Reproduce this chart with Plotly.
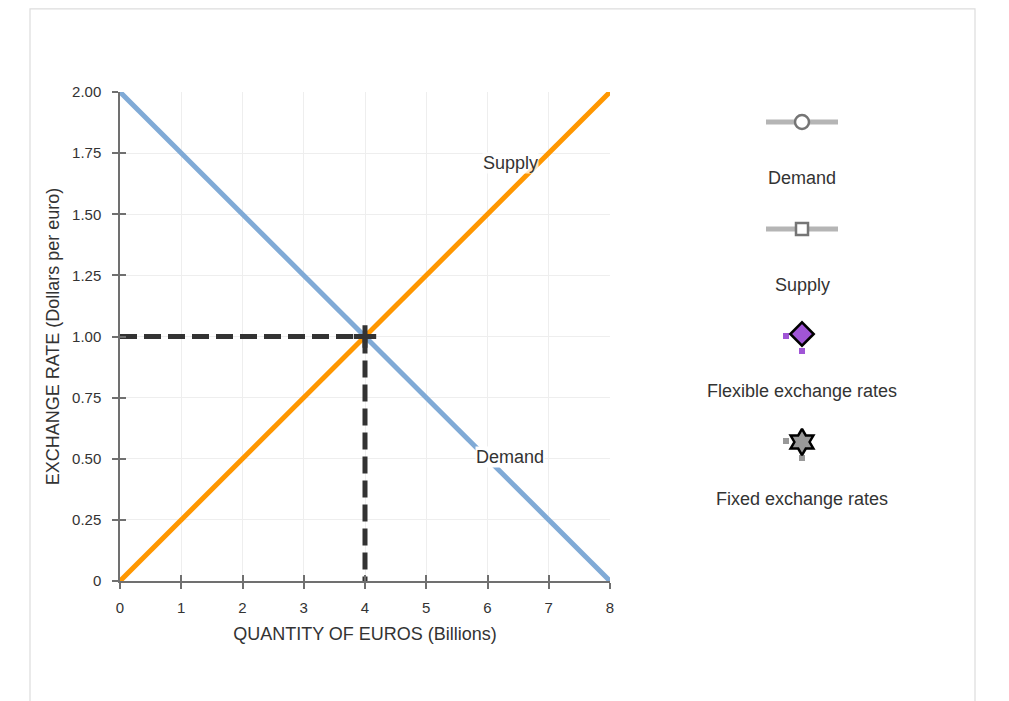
import plotly.graph_objects as go

# ---- data ----
demand_q = [0, 8]
demand_p = [2.0, 0.0]
supply_q = [0, 8]
supply_p = [0.0, 2.0]
equil_q = 4
equil_p = 1.0
x_ticks = [0, 1, 2, 3, 4, 5, 6, 7, 8]
y_ticks = [0, 0.25, 0.5, 0.75, 1.0, 1.25, 1.5, 1.75, 2.0]
y_ticklabels = ["0", "0.25", "0.50", "0.75", "1.00", "1.25", "1.50", "1.75", "2.00"]
curve_labels = ["Supply", "Demand"]
curve_label_q = [6.37, 6.37]
curve_label_p = [1.71, 0.507]

legend_names = ["Demand", "Supply", "Flexible exchange rates", "Fixed exchange rates"]

FONT = "Arial, Liberation Sans, sans-serif"
TXT = "#333333"
BLUE = "#80aad6"
ORANGE = "#ff9700"
DARK = "#333333"

fig = go.Figure()

# main curves
fig.add_trace(go.Scatter(x=demand_q, y=demand_p, mode="lines",
                         line=dict(color=BLUE, width=5), hoverinfo="skip"))
fig.add_trace(go.Scatter(x=supply_q, y=supply_p, mode="lines",
                         line=dict(color=ORANGE, width=5), hoverinfo="skip"))
# dashed guides
fig.add_trace(go.Scatter(x=[0, equil_q], y=[equil_p, equil_p], mode="lines",
                         line=dict(color=DARK, width=5, dash="17px,7px"), hoverinfo="skip"))
fig.add_trace(go.Scatter(x=[equil_q, equil_q], y=[equil_p, 0], mode="lines",
                         line=dict(color=DARK, width=5, dash="17px,7px"), hoverinfo="skip"))
# equilibrium cross
fig.add_trace(go.Scatter(x=[equil_q], y=[equil_p], mode="markers",
                         marker=dict(symbol="cross-thin", size=16,
                                     line=dict(color=DARK, width=5)), hoverinfo="skip"))
# inside-tick overlay axes
fig.add_trace(go.Scatter(x=[None], y=[None], xaxis="x3", yaxis="y3", showlegend=False))

# ---- palette (right side, screen-pixel-like coordinates on axis 2) ----
pal_cx = 802
pal_line = [766, 838]
pal_icon_y = [122, 229, 334, 442]
pal_text_y = [178, 285, 391, 499]
GRAY_LINE = "#b5b5b5"
GRAY_EDGE = "#757575"

for yy, sym in zip(pal_icon_y[:2], ["circle", "square"]):
    fig.add_trace(go.Scatter(x=pal_line, y=[yy, yy], mode="lines", xaxis="x2", yaxis="y2",
                             line=dict(color=GRAY_LINE, width=5), hoverinfo="skip"))
    fig.add_trace(go.Scatter(x=[pal_cx], y=[yy], mode="markers", xaxis="x2", yaxis="y2",
                             marker=dict(symbol=sym, size=12 if sym == "square" else 14,
                                         color="white", line=dict(color=GRAY_EDGE, width=2.5)),
                             hoverinfo="skip"))

PURPLE = "#a055d6"
fig.add_trace(go.Scatter(x=[pal_cx - 16, pal_cx], y=[pal_icon_y[2] + 2, pal_icon_y[2] + 17],
                         mode="markers", xaxis="x2", yaxis="y2",
                         marker=dict(symbol="square", size=6, color=PURPLE), hoverinfo="skip"))
fig.add_trace(go.Scatter(x=[pal_cx], y=[pal_icon_y[2]], mode="markers", xaxis="x2", yaxis="y2",
                         marker=dict(symbol="diamond", size=18, color=PURPLE,
                                     line=dict(color="black", width=2.5)), hoverinfo="skip"))
GRAY = "#999999"
fig.add_trace(go.Scatter(x=[pal_cx - 16, pal_cx], y=[pal_icon_y[3] - 1, pal_icon_y[3] + 16],
                         mode="markers", xaxis="x2", yaxis="y2",
                         marker=dict(symbol="square", size=6, color=GRAY), hoverinfo="skip"))
fig.add_trace(go.Scatter(x=[pal_cx], y=[pal_icon_y[3]], mode="markers", xaxis="x2", yaxis="y2",
                         marker=dict(symbol="hexagram", size=20, color=GRAY,
                                     line=dict(color="black", width=2.5)), hoverinfo="skip"))

annotations = []
for name, ty in zip(legend_names, pal_text_y):
    annotations.append(dict(x=pal_cx, y=ty, xref="x2", yref="y2", text=name, showarrow=False,
                            font=dict(family=FONT, size=18, color=TXT)))
for lab, q, p in zip(curve_labels, curve_label_q, curve_label_p):
    annotations.append(dict(x=q, y=p, xref="x", yref="y", text=lab, showarrow=False,
                            font=dict(family=FONT, size=18, color=TXT),
                            bgcolor="rgba(255,255,255,0.75)" if lab == "Supply" else "white",
                            borderpad=0))

# page has an 8px body margin: figure is drawn from screen (8,8)
OFF = 8
W, H = 1009 - 2 * OFF, 701 - OFF
ml, mt = 120 - OFF, 92 - OFF
mr = W - (900 - OFF)
mb = H - (581 - OFF)
plot_w = W - ml - mr
plot_h = H - mt - mb
main_frac = 490 / plot_w

axis_common = dict(showline=True, linecolor="#707070", linewidth=1.5, ticks="outside",
                   ticklen=6, tickcolor="#707070", tickwidth=1.5,
                   gridcolor="#eeeeee", gridwidth=1, zeroline=False,
                   tickfont=dict(family=FONT, size=15, color=TXT))

fig.update_layout(
    width=W, height=H,
    margin=dict(l=ml, r=mr, t=mt, b=mb),
    paper_bgcolor="white", plot_bgcolor="white",
    showlegend=False,
    xaxis=dict(domain=[0, main_frac], range=[0, 8], tickvals=x_ticks,
               title=dict(text="QUANTITY OF EUROS (Billions)", standoff=13,
                          font=dict(family=FONT, size=18, color=TXT)),
               ticklabelstandoff=6, **axis_common),
    yaxis=dict(domain=[0, 1], range=[0, 2], tickvals=y_ticks, ticktext=y_ticklabels,
               title=dict(text="EXCHANGE RATE (Dollars per euro)", standoff=8,
                          font=dict(family=FONT, size=18, color=TXT)),
               ticklabelstandoff=8, **axis_common),
    xaxis3=dict(overlaying="x", range=[0, 8], tickvals=x_ticks, ticks="inside", ticklen=6,
                tickcolor="#707070", tickwidth=1.5, showticklabels=False, showgrid=False,
                zeroline=False, showline=False, anchor="y"),
    yaxis3=dict(overlaying="y", range=[0, 2], tickvals=y_ticks, ticks="inside", ticklen=6,
                tickcolor="#707070", tickwidth=1.5, showticklabels=False, showgrid=False,
                zeroline=False, showline=False, anchor="x"),
    xaxis2=dict(domain=[main_frac, 1], range=[610, 900], visible=False, anchor="y2"),
    yaxis2=dict(domain=[0, 1], range=[581, 92], visible=False, anchor="x2"),
    annotations=annotations,
    shapes=[dict(type="path", xref="paper", yref="paper",
                 path="M {x0},{y0} L {x0},{y1} L {x1},{y1} L {x1},{y0}".format(
                     x0=(30 - 120) / plot_w, x1=(975 - 120) / plot_w,
                     y0=-(H - mt - plot_h + 20) / plot_h, y1=(plot_h + mt - 0.8) / plot_h),
                 line=dict(color="#dddddd", width=1.2), layer="below")],
)

fig.write_html("out.html")
